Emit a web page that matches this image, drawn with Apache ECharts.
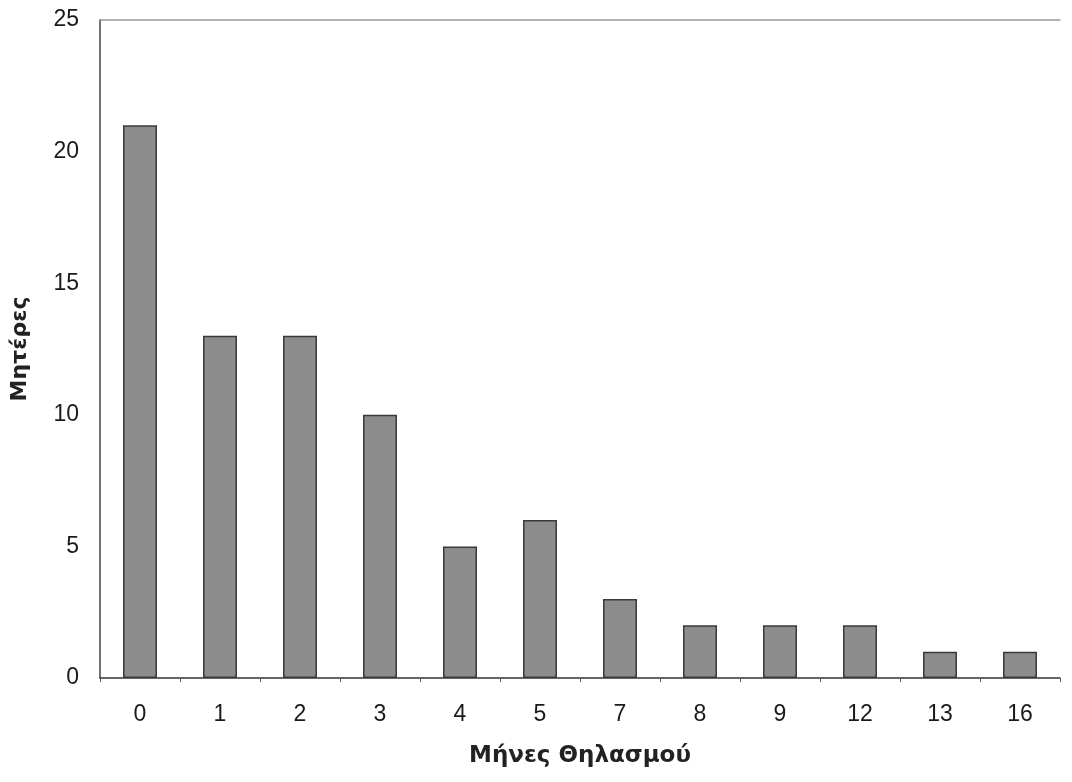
<!DOCTYPE html>
<html><head><meta charset="utf-8">
<script src="https://cdn.jsdelivr.net/npm/echarts@6/dist/echarts.min.js"></script>
<style>html,body{margin:0;padding:0;background:#fff}#c{width:1072px;height:782px}</style>
</head><body><div id="c"></div>
<script>
const categories = ['0','1','2','3','4','5','7','8','9','12','13','16'];
const mothers = [21,13,13,10,5,6,3,2,2,2,1,1];
const yTicks = [0,5,10,15,20,25];
const xTitle = 'Μήνες Θηλασμού';
const yTitle = 'Μητέρες';

const chart = echarts.init(document.getElementById('c'), null, {renderer:'canvas'});
const font = 'Liberation Sans, Arial, sans-serif';
const titleFont = 'DejaVu Sans, Verdana, sans-serif';
chart.setOption({
  animation:false,
  backgroundColor:'#fff',
  grid:{left:100,right:12,top:20,bottom:104,containLabel:false},
  xAxis:[{
    type:'category', data:categories, position:'bottom',
    axisLine:{lineStyle:{color:'#333',width:1.5}},
    axisTick:{show:true,length:4,lineStyle:{color:'#555'}},
    axisLabel:{color:'#1a1a1a',fontSize:23,fontFamily:font,margin:25},
    name:xTitle, nameLocation:'middle', nameGap:67,
    nameTextStyle:{color:'#222',fontSize:23,fontWeight:'bold',fontFamily:titleFont}
  },{
    type:'category', data:categories, position:'top',
    axisLine:{lineStyle:{color:'#999',width:1.5}},
    axisTick:{show:false}, axisLabel:{show:false}
  }],
  yAxis:{
    type:'value', min:0, max:25, interval:5,
    axisLine:{show:true,lineStyle:{color:'#444',width:1.5}},
    axisTick:{show:false},
    splitLine:{show:false},
    axisLabel:{color:'#1a1a1a',fontSize:23,fontFamily:font,margin:21,
      formatter:v=>yTicks.includes(v)?String(v):''},
    name:yTitle, nameLocation:'middle', nameGap:69, nameRotate:90,
    nameTextStyle:{color:'#222',fontSize:22,fontWeight:'bold',fontFamily:titleFont}
  },
  series:[{
    type:'bar', data:mothers, barWidth:34, xAxisIndex:0,
    itemStyle:{color:'#8c8c8c',borderColor:'#3a3a3a',borderWidth:1.5}
  }]
});
</script></body></html>
